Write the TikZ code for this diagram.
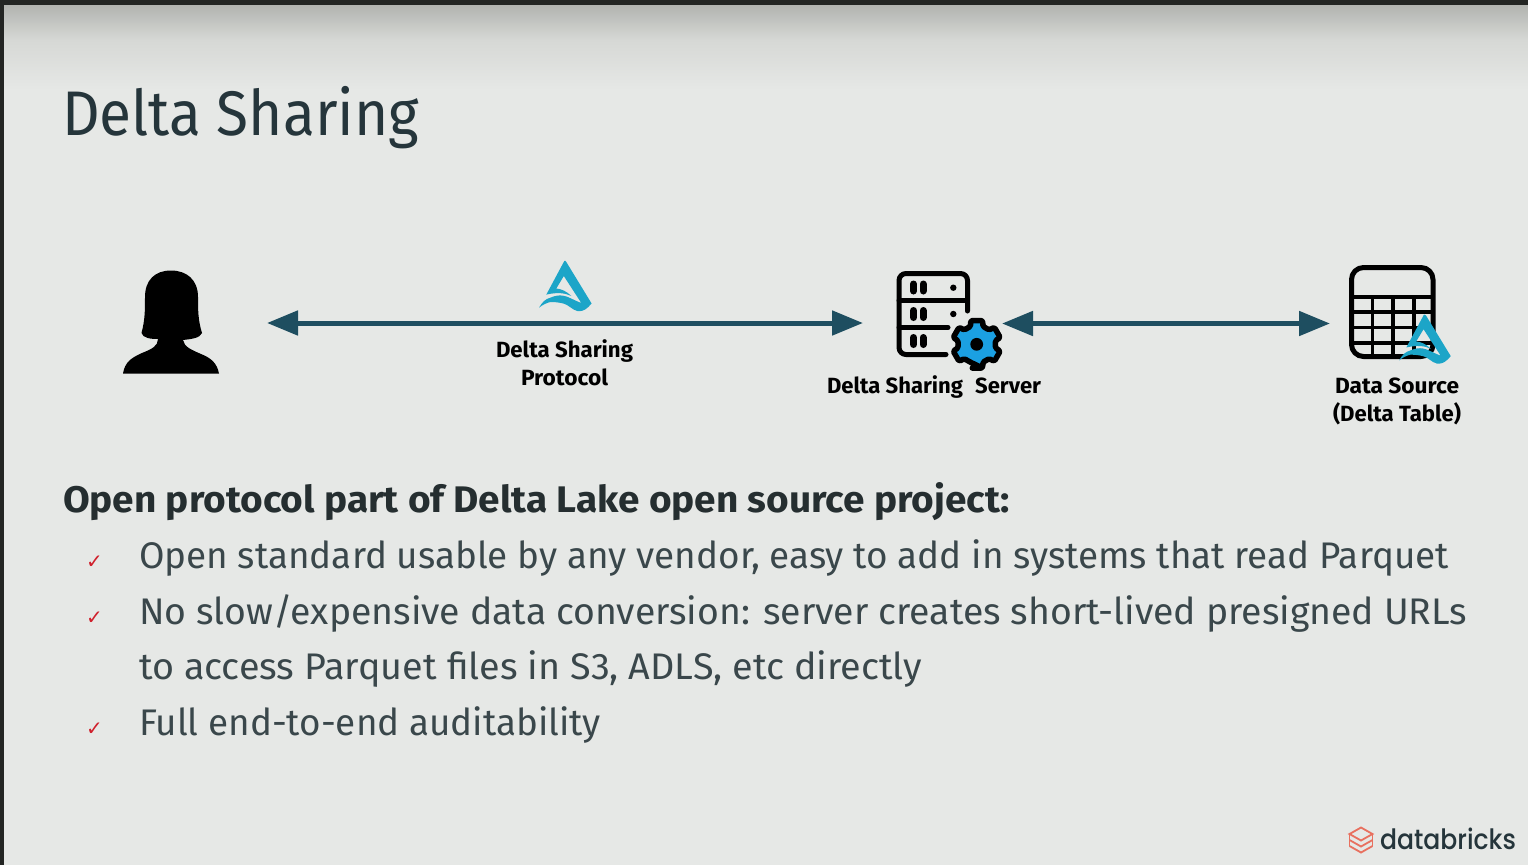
\documentclass[tikz,border=0pt]{standalone}
\usepackage{fontspec}
\usepackage{graphicx}
\usetikzlibrary{arrows.meta}
\setmainfont{Fira Sans}
\newfontfamily\lblfont{Fira Sans}[UprightFont=* Bold]
\newfontfamily\brandfont{Poppins}[UprightFont=* Medium]
\newfontfamily\tickfont{DejaVu Sans}
\newcommand{\fitw}[2]{\resizebox{#1pt}{\height}{#2}}
\definecolor{bgc}{HTML}{E6E8E6}
\definecolor{bgtop}{HTML}{B2B4B0}
\definecolor{bgmid}{HTML}{D6D8D5}
\definecolor{barc}{HTML}{232523}
\definecolor{titlec}{HTML}{25353B}
\definecolor{bodyc}{HTML}{3A474B}
\definecolor{headc}{HTML}{252E30}
\definecolor{arrowc}{HTML}{1E4E60}
\definecolor{deltac}{HTML}{1CA5C8}
\definecolor{gearc}{HTML}{1BA0E2}
\definecolor{brandr}{HTML}{E8705F}
\definecolor{tickc}{HTML}{D0202C}
\tikzset{
  txt/.style={inner sep=0pt,outer sep=0pt,anchor=base west},
  lbl/.style={inner sep=0pt,outer sep=0pt,anchor=base,text=black,font=\lblfont\fontsize{22}{24}\selectfont},
  bullet/.style={txt,text=bodyc,font=\fontsize{37}{40}\selectfont},
  tick/.style={inner sep=0pt,outer sep=0pt,text=tickc,font=\tickfont\fontsize{20}{22}\selectfont},
  conn/.style={draw=arrowc,line width=5pt,{Triangle[length=31pt,width=24pt]}-{Triangle[length=31pt,width=24pt]}},
  icon/.style={line width=5pt,draw=black,line cap=round,line join=round},
  grid/.style={line width=3.6pt,draw=black},
  pill/.style={line width=7pt,draw=black,line cap=round},
  brick/.style={draw=brandr,line width=1.8pt,line join=miter}
}
\newcommand{\deltalogo}[3]{%
  \begin{scope}[shift={(#1,#2)},scale=#3]
  \fill[deltac] (0,0) .. controls (1,-0.5) and (1.5,0) .. (2,1) -- (27.3,42.5) -- (24,46)
     .. controls (20,50) and (16,50.5) .. (13,50)
     .. controls (8,49) and (4,43.5) .. (-1,42.5)
     .. controls (-7,41) and (-12,41) .. (-14,41)
     .. controls (-18,42) and (-22,44) .. (-25.3,46.7)
     .. controls (-22,41) and (-19,38) .. (-14,36.7)
     .. controls (-9,34.5) and (-5,34) .. (-1,34.7)
     .. controls (4,35.5) and (8,38.5) .. (17,42)
     -- (-0.5,15) -- (-8,27.5)
     .. controls (-3,28) and (2,30) .. (7,35)
     .. controls (1,32) and (-7,31) .. (-18,33.6) -- cycle;
  \end{scope}}
\begin{document}
\begin{tikzpicture}[x=1pt,y=-1pt]
\useasboundingbox (0,0) rectangle (1528,865);
% background
\fill[bgc] (0,0) rectangle (1528,865);
\shade[top color=bgtop,bottom color=bgmid] (0,5) rectangle (1528,40);
\shade[top color=bgmid,bottom color=bgc] (0,40) rectangle (1528,90);
\fill[barc] (0,0) rectangle (1528,5);
\fill[barc] (0,0) rectangle (3.6,865);
% title and text
\node[txt,text=titlec,font=\fontsize{63}{66}\selectfont] (title) at (62,135) {\fitw{357}{Delta Sharing}};
\node[txt,text=headc,font=\bfseries\fontsize{37}{40}\selectfont] (head) at (63,512) {\fitw{947}{Open protocol part of Delta Lake open source project:}};
\node[bullet] (b1) at (139,568) {\fitw{1310}{Open standard usable by any vendor, easy to add in systems that read Parquet}};
\node[bullet] (b2) at (139,624) {\fitw{1328}{No slow/expensive data conversion: server creates short-lived presigned URLs}};
\node[bullet] (b3) at (139,679) {\fitw{783}{to access Parquet files in S3, ADLS, etc directly}};
\node[bullet] (b4) at (139,735) {\fitw{462}{Full end-to-end auditability}};
\node[tick] (t1) at (94.5,562.5) {✓};
\node[tick] (t2) at (94.5,618.5) {✓};
\node[tick] (t3) at (94.5,729.5) {✓};
% person
\fill[black] (123,373.5) .. controls (125,362) and (131,358) .. (142,353)
  .. controls (152,349) and (158,346) .. (158,339)
  .. controls (150,339) and (143,338) .. (141.5,333)
  .. controls (145,320) and (145,310) .. (145,297)
  .. controls (145,280) and (155,270.5) .. (171,270.5)
  .. controls (187,270.5) and (198,280) .. (198,297)
  .. controls (198,310) and (198,320) .. (202,333)
  .. controls (200,338) and (192,339) .. (183,340)
  .. controls (184,347) and (192,350) .. (201,354)
  .. controls (211,358) and (217,363) .. (219,373.5) -- cycle;
% arrows
\coordinate (a1l) at (267,323);
\coordinate (a1r) at (863,323);
\coordinate (a2l) at (1002,323.5);
\coordinate (a2r) at (1330,323.5);
\draw[conn] (a1l) -- (a1r);
\draw[conn] (a2l) -- (a2r);
% protocol logo
\deltalogo{564.3}{261}{1}
\node[lbl] (l1a) at (564.5,357.5) {\fitw{137}{Delta Sharing}};
\node[lbl] (l1b) at (564.5,385.5) {\fitw{87}{Protocol}};
% server icon
\draw[icon,rounded corners=7pt] (967.5,311) -- (967.5,273.5) -- (899,273.5) -- (899,354.5) -- (946,354.5);
\draw[icon] (899,300.5) -- (967,300.5);
\draw[icon] (899,327.5) -- (948,327.5);
\foreach \yy in {287.5,314,341} {
  \draw[pill] (913.5,\yy-3.5) -- (913.5,\yy+3.5);
  \draw[pill] (923,\yy-3.5) -- (923,\yy+3.5);
}
\fill (953.3,287.7) circle (3.2pt);
\fill (953.3,314) circle (3.2pt);
\begin{scope}[shift={(976.7,344.3)}]
  \draw[fill=gearc,draw=black,line width=5.5pt,line join=round,rounded corners=1.5pt]
    (90-14:24.5) \foreach \a in {90,30,-30,-90,-150,-210} {
      -- (\a+14:24.5) -- (\a-14:24.5) -- (\a-19:19) -- (\a-41:19)
    } -- cycle;
  \fill[black] (0,0) circle (6.4pt);
\end{scope}
\node[lbl] (l2) at (934,393.5) {\fitw{214}{Delta Sharing\hspace{0.55em}Server}};
% table icon
\draw[grid] (1351,296.7) -- (1433,296.7) (1351,311.7) -- (1433,311.7) (1351,327.3) -- (1433,327.3) (1351,342.7) -- (1433,342.7);
\draw[grid] (1372.3,297) -- (1372.3,357) (1392.7,297) -- (1392.7,357) (1414,297) -- (1414,357);
\draw[icon,rounded corners=12pt] (1351.5,267.5) rectangle (1433,356.5);
\deltalogo{1424}{314.5}{0.98}
\node[lbl] (l3a) at (1397,393.5) {\fitw{124}{Data Source}};
\node[lbl] (l3b) at (1397,421) {\fitw{128}{(Delta Table)}};
% databricks brand
\begin{scope}[shift={(1361,840)}]
  \draw[brick] (-11.5,0) -- (0,6.5) -- (11.5,0) (-11.5,6) -- (0,12.5) -- (11.5,6);
  \draw[brick] (-11.5,-6) -- (0,0.5) -- (11.5,-6) -- (0,-12.5) -- cycle;
  \draw[brick] (-11.5,-6) -- (-11.5,6) (11.5,-6) -- (11.5,6);
\end{scope}
\node[txt,text=titlec,font=\brandfont\fontsize{28}{30}\selectfont] (brand) at (1380,849) {\fitw{136}{databricks}};
\end{tikzpicture}
\end{document}
